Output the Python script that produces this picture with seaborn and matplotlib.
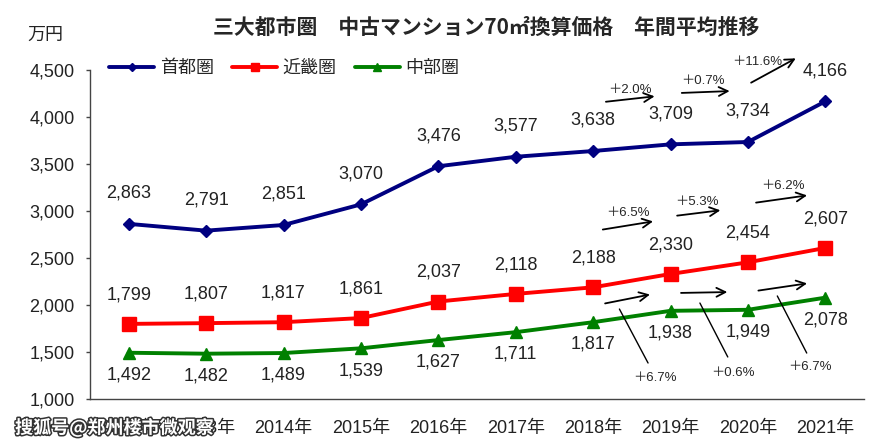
import numpy as np
import pandas as pd
import matplotlib
matplotlib.use('Agg')
import matplotlib.pyplot as plt
import matplotlib.patheffects as pe
from matplotlib.lines import Line2D
from matplotlib.ticker import FuncFormatter, FixedLocator
import seaborn as sns

# データ（万円）
years = ['2012年', '2013年', '2014年', '2015年', '2016年',
         '2017年', '2018年', '2019年', '2020年', '2021年']
shutoken = [2863, 2791, 2851, 3070, 3476, 3577, 3638, 3709, 3734, 4166]
kinki = [1799, 1807, 1817, 1861, 2037, 2118, 2188, 2330, 2454, 2607]
chubu = [1492, 1482, 1489, 1539, 1627, 1711, 1817, 1938, 1949, 2078]
areas = ['首都圏', '近畿圏', '中部圏']

# 前年比（2019年・2020年・2021年）
pct_shutoken = ['＋2.0%', '＋0.7%', '＋11.6%']
pct_kinki = ['＋6.5%', '＋5.3%', '＋6.2%']
pct_chubu = ['＋6.7%', '＋0.6%', '＋6.7%']

title = '三大都市圏　中古マンション70㎡換算価格　年間平均推移'

sns.set_theme(style='white')
plt.rcParams['font.family'] = ['Liberation Sans', 'Noto Sans CJK JP']

pos = np.arange(len(years))
df = pd.DataFrame({
    'pos': np.tile(pos, 3),
    '価格': shutoken + kinki + chubu,
    '地域': np.repeat(areas, len(years)),
})

colors = {'首都圏': '#000080', '近畿圏': '#ff0000', '中部圏': '#008000'}
markers = {'首都圏': 'D', '近畿圏': 's', '中部圏': '^'}
msizes = {'首都圏': 6.5, '近畿圏': 10, '中部圏': 9}

fig = plt.figure(figsize=(8.85, 4.48), dpi=100)
ax = fig.add_axes([90 / 885, 1 - 399 / 448, 774 / 885, 329 / 448])

for a in areas:
    sub = df[df['地域'] == a]
    sns.lineplot(data=sub, x='pos', y='価格', color=colors[a], marker=markers[a],
                 markersize=msizes[a], markeredgecolor=colors[a], markeredgewidth=1,
                 linewidth=2.8, ax=ax, legend=False)

ax.set_xlim(-0.5, len(years) - 0.5)
ax.set_ylim(1000, 4500)
ax.set_xlabel('')
ax.set_ylabel('')

# 軸
ax.xaxis.set_major_locator(FixedLocator(np.arange(-0.5, len(years), 1.0)))
ax.xaxis.set_minor_locator(FixedLocator(pos))
ax.set_xticklabels([], minor=False)
ax.set_xticklabels(years, minor=True)
ax.tick_params(axis='x', which='major', direction='in', length=4, width=1, color='#444444')
ax.tick_params(axis='x', which='minor', length=0, pad=15, labelsize=13, labelcolor='#222222')
ax.set_yticks(np.arange(1000, 4501, 500))
ax.yaxis.set_major_formatter(FuncFormatter(lambda v, p: f'{int(v):,}'))
ax.tick_params(axis='y', direction='out', length=3, width=1, color='#444444', pad=8,
               labelsize=13, labelcolor='#222222', left=True)
for s in ['top', 'right']:
    ax.spines[s].set_visible(False)
for s in ['left', 'bottom']:
    ax.spines[s].set_color('#444444')
    ax.spines[s].set_linewidth(1)

# データラベル
for i in pos:
    ax.annotate(f'{shutoken[i]:,}', (i, shutoken[i]), xytext=(0, 22), textcoords='offset points',
                ha='center', va='center', fontsize=13, color='#222222')
    ax.annotate(f'{kinki[i]:,}', (i, kinki[i]), xytext=(0, 21), textcoords='offset points',
                ha='center', va='center', fontsize=13, color='#222222')
    ax.annotate(f'{chubu[i]:,}', (i, chubu[i]), xytext=(0, -16), textcoords='offset points',
                ha='center', va='center', fontsize=13, color='#222222')

arrow = dict(arrowstyle='->', color='black', lw=1.3, mutation_scale=16)

# 首都圏の矢印
ax.annotate('', xy=(6.83, 4223), xytext=(6.13, 4159), arrowprops=arrow, annotation_clip=False)
ax.annotate('', xy=(7.80, 4277), xytext=(7.11, 4255), arrowprops=arrow, annotation_clip=False)
ax.annotate('', xy=(8.65, 4638), xytext=(8.01, 4351), arrowprops=arrow, annotation_clip=False)
ax.text(6.48, 4287, pct_shutoken[0], ha='center', va='center', fontsize=9.5, clip_on=False)
ax.text(7.42, 4383, pct_shutoken[1], ha='center', va='center', fontsize=9.5, clip_on=False)
ax.text(8.12, 4585, pct_shutoken[2], ha='center', va='center', fontsize=9.5, clip_on=False)

# 近畿圏の矢印
ax.annotate('', xy=(6.81, 2894), xytext=(6.09, 2798), arrowprops=arrow)
ax.annotate('', xy=(7.68, 3011), xytext=(7.05, 2947), arrowprops=arrow)
ax.annotate('', xy=(8.80, 3170), xytext=(8.07, 3085), arrowprops=arrow)
ax.text(6.45, 2979, pct_kinki[0], ha='center', va='center', fontsize=9.5)
ax.text(7.34, 3096, pct_kinki[1], ha='center', va='center', fontsize=9.5)
ax.text(8.45, 3266, pct_kinki[2], ha='center', va='center', fontsize=9.5)

# 中部圏の矢印と引き出し線
ax.annotate('', xy=(6.77, 2117), xytext=(6.12, 2011), arrowprops=arrow)
ax.annotate('', xy=(7.77, 2138), xytext=(7.10, 2128), arrowprops=arrow)
ax.annotate('', xy=(8.80, 2234), xytext=(8.10, 2149), arrowprops=arrow)
ax.plot([6.34, 6.71], [1957, 1383], color='black', lw=1)
ax.plot([7.38, 7.74], [2021, 1447], color='black', lw=1)
ax.plot([8.38, 8.76], [2096, 1489], color='black', lw=1)
ax.text(6.80, 1223, pct_chubu[0], ha='center', va='center', fontsize=9.5)
ax.text(7.81, 1277, pct_chubu[1], ha='center', va='center', fontsize=9.5)
ax.text(8.80, 1340, pct_chubu[2], ha='center', va='center', fontsize=9.5)

# 凡例
handles = [Line2D([], [], color=colors[a], marker=markers[a], lw=2.8,
                  markersize=msizes[a] * 0.6, markeredgecolor=colors[a]) for a in areas]
ax.legend(handles, areas, loc='center left', bbox_to_anchor=(0.025, 1.005), ncol=3,
          frameon=False, fontsize=13, handlelength=2.5, handletextpad=0.3,
          columnspacing=1.0, borderaxespad=0, borderpad=0)

fig.text(0.549, 1 - 27 / 448, title, ha='center', va='center', fontsize=15,
         fontweight='bold', family=['Noto Sans CJK JP', 'DejaVu Sans'])
fig.text(0.051, 1 - 35 / 448, '万円', ha='center', va='center', fontsize=13,
         family=['Noto Sans CJK JP'], color='#222222')

# 透かし
fig.text(0.017, 1 - 428 / 448, '搜狐号@郑州楼市微观察', ha='left', va='center', fontsize=13,
         fontweight='bold', color='white', family=['Noto Sans CJK SC'],
         path_effects=[pe.withStroke(linewidth=2.2, foreground='#333333')])

plt.savefig('out.png', dpi=100)
